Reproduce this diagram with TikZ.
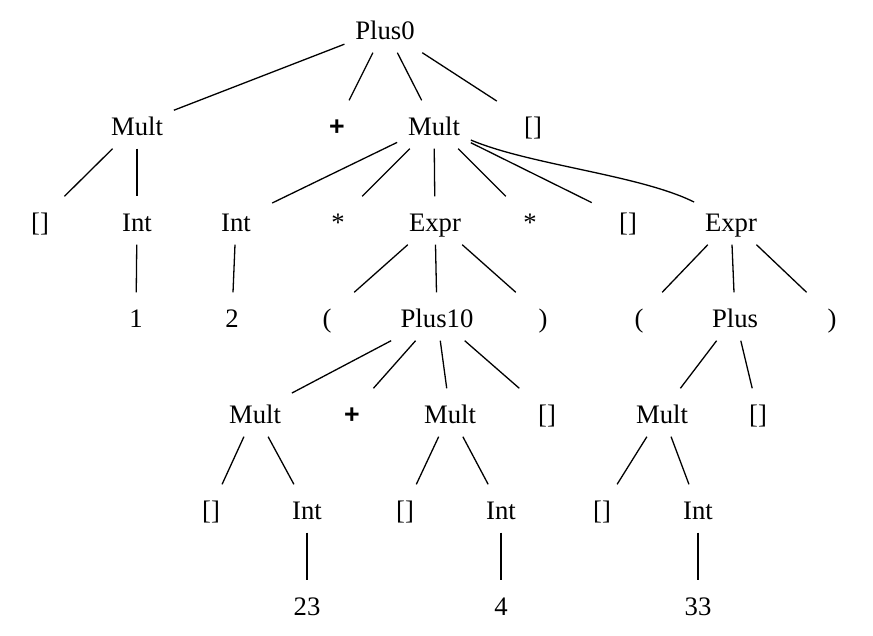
\documentclass[tikz,border=0pt]{standalone}
\usepackage{fontspec}
\setmainfont{Liberation Serif}
\newfontfamily\plusfont{Liberation Sans}
\begin{document}
\begin{tikzpicture}[x=1pt,y=-1pt,
  tn/.style={rectangle, minimum width=72pt, minimum height=48pt, inner xsep=10.7pt, inner ysep=0pt,
    text height=21pt, text depth=0pt, font=\fontsize{26.7}{32}\selectfont},
  pl/.style={tn, font=\plusfont\bfseries\fontsize{26.7}{32}\selectfont},
  edge/.style={line width=1.3pt}]
\useasboundingbox (0,0) rectangle (873,635);
% row 1
\node[tn] (P0) at (385,28.5) {Plus0};
% row 2
\node[tn] (M1) at (137,124.5) {Mult};
\node[pl] (pA) at (337,124.5) {+};
\node[tn] (M2) at (434,124.5) {Mult};
\node[tn] (e1) at (533,124.5) {[]};
% row 3
\node[tn] (e2) at (40,220.5) {[]};
\node[tn] (I1) at (137,220.5) {Int};
\node[tn] (I2) at (236,220.5) {Int};
\node[tn] (s1) at (338,220.5) {*};
\node[tn] (X1) at (435,220.5) {Expr};
\node[tn] (s2) at (530,220.5) {*};
\node[tn] (e3) at (628,220.5) {[]};
\node[tn] (X2) at (731,220.5) {Expr};
% row 4
\node[tn] (n1) at (136,316.5) {1};
\node[tn] (n2) at (232,316.5) {2};
\node[tn] (lp1) at (327,316.5) {(};
\node[tn] (P10) at (437,316.5) {Plus10};
\node[tn] (rp1) at (543,316.5) {)};
\node[tn] (lp2) at (639,316.5) {(};
\node[tn] (Pl) at (735,316.5) {Plus};
\node[tn] (rp2) at (832,316.5) {)};
% row 5
\node[tn] (M3) at (255,412.5) {Mult};
\node[pl] (pB) at (352,412.5) {+};
\node[tn] (M4) at (450,412.5) {Mult};
\node[tn] (e4) at (547,412.5) {[]};
\node[tn] (M5) at (662,412.5) {Mult};
\node[tn] (e5) at (758,412.5) {[]};
% row 6
\node[tn] (e6) at (211,508.5) {[]};
\node[tn] (I3) at (307,508.5) {Int};
\node[tn] (e7) at (405,508.5) {[]};
\node[tn] (I4) at (501,508.5) {Int};
\node[tn] (e8) at (602,508.5) {[]};
\node[tn] (I5) at (698,508.5) {Int};
% row 7
\node[tn] (n23) at (307,604.5) {23};
\node[tn] (n4) at (501,604.5) {4};
\node[tn] (n33) at (698,604.5) {33};
% edges
\foreach \a/\b in {P0/M1,P0/pA,P0/M2,P0/e1,
  M1/e2,M1/I1,I1/n1,
  M2/I2,M2/s1,M2/X1,M2/s2,M2/e3,I2/n2,
  X1/lp1,X1/P10,X1/rp1,
  X2/lp2,X2/Pl,X2/rp2,
  P10/M3,P10/pB,P10/M4,P10/e4,
  Pl/M5,Pl/e5,
  M3/e6,M3/I3,I3/n23,
  M4/e7,M4/I4,I4/n4,
  M5/e8,M5/I5,I5/n33}
  \draw[edge] (\a) -- (\b);
\draw[edge] (M2) .. controls (530,165) and (640,175) .. (X2);
\end{tikzpicture}
\end{document}
